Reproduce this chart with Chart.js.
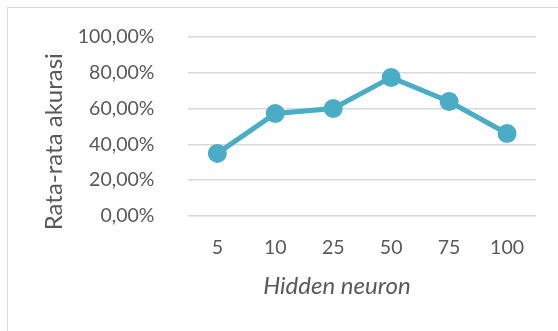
<!DOCTYPE html>
<html>
<head>
<meta charset="utf-8">
<script src="https://cdn.jsdelivr.net/npm/chart.js@4/dist/chart.umd.min.js"></script>
<style>
  html, body { margin: 0; padding: 0; background: #fff; overflow: hidden; }
  #frame { position: absolute; left: 7px; top: 7px; width: 600px; height: 400px; border: 1px solid #d9d9d9; }
  #wrap { position: absolute; left: 0; top: 0; width: 558px; height: 331px; }
</style>
</head>
<body>
<div id="frame"></div>
<div id="wrap"><canvas id="chart0"></canvas></div>
<script>
const xlabels = ["5", "10", "25", "50", "75", "100"];
const yvalues = [34.9, 57.2, 60.0, 77.4, 63.9, 46.0];
const yticks = [0, 20, 40, 60, 80, 100];

const ctx = document.getElementById("chart0").getContext("2d");

const myChart = new Chart(ctx, {
  type: "line",
  data: {
    labels: xlabels,
    datasets: [{
      label: "Rata-rata akurasi",
      data: yvalues,
      borderColor: "#4bacc6",
      backgroundColor: "#4bacc6",
      borderWidth: 5,
      pointRadius: 7,
      pointHoverRadius: 7,
      tension: 0,
    }],
  },
  options: {
    responsive: true,
    maintainAspectRatio: false,
    animation: false,
    layout: { padding: { left: 40, right: 22, top: 37, bottom: 30 } },
    plugins: { legend: { display: false }, tooltip: { enabled: false } },
    scales: {
      x: {
        offset: true,
        grid: { display: false, drawTicks: false },
        border: { display: false },
        ticks: { color: "#595959", font: { family: "Lato", size: 19.5 }, padding: 20 },
        title: {
          display: true,
          // trailing spaces push the visible words left, like the original
          text: "Hidden neuron         ",
          color: "#595959",
          font: { family: "Lato", size: 24, style: "italic" },
          padding: { top: -7, bottom: 0 },
        },
      },
      y: {
        min: 0,
        max: 100,
        afterBuildTicks: (axis) => { axis.ticks = yticks.map((v) => ({ value: v })); },
        // the big tick padding would otherwise push the plot top down
        afterFit: (axis) => { axis.paddingTop = 0; axis.paddingBottom = 0; },
        grid: { color: "#d9d9d9", lineWidth: 1.5, drawTicks: false },
        border: { display: false },
        ticks: {
          color: "#595959",
          font: { family: "Lato", size: 19.5 },
          padding: 34,
          callback: (v) => v.toFixed(2).replace(".", ",") + "%",
        },
        title: {
          display: true,
          text: "Rata-rata akurasi     ",
          color: "#595959",
          font: { family: "Lato", size: 24 },
          padding: { top: 0, bottom: -25 },
        },
      },
    },
  },
});
</script>
</body>
</html>
